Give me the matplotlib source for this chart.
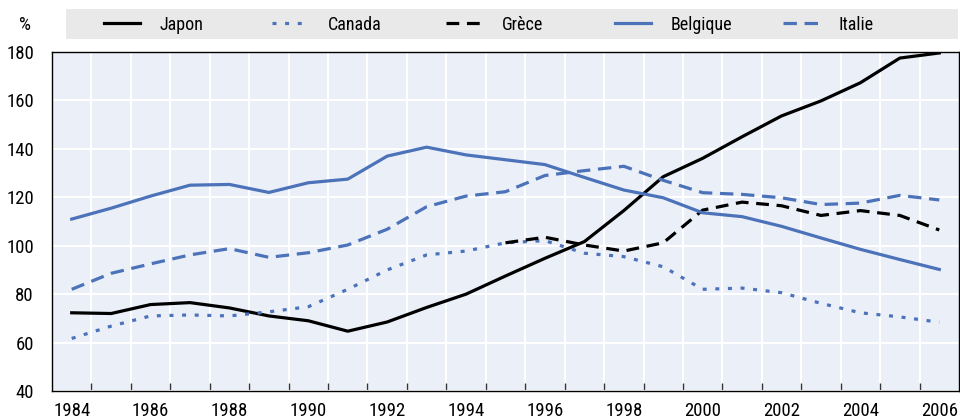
import matplotlib
matplotlib.use("Agg")
import matplotlib.pyplot as plt
from matplotlib.patches import Rectangle
import numpy as np

plt.rcParams['font.family'] = ['Roboto Condensed', 'Archivo Narrow', 'Liberation Sans', 'DejaVu Sans']

years = list(range(1984, 2007))
japon = [72.3, 72.0, 75.7, 76.5, 74.3, 71.0, 69.0, 64.7, 68.5, 74.5, 80.0, 87.5, 94.8,
         101.7, 114.5, 128.5, 136.1, 145.0, 153.6, 159.8, 167.3, 177.5, 179.6]
canada = [61.7, 66.8, 71.0, 71.4, 71.0, 72.7, 74.8, 82.0, 90.0, 96.2, 97.8, 101.2, 102.1,
          96.9, 95.5, 91.3, 82.0, 82.5, 80.6, 76.2, 72.3, 70.6, 68.4]
grece_years = list(range(1995, 2007))
grece = [101.2, 103.5, 100.3, 97.8, 101.2, 114.7, 118.0, 116.5, 112.5, 114.5, 112.5, 106.5]
belgique = [111.0, 115.5, 120.5, 125.0, 125.3, 122.0, 126.0, 127.5, 137.0, 140.7, 137.5,
            135.5, 133.5, 128.2, 123.0, 119.8, 113.6, 112.0, 108.0, 103.2, 98.5, 94.3, 90.2]
italie = [82.0, 88.6, 92.5, 96.2, 98.8, 95.2, 97.1, 100.3, 106.8, 116.1, 120.5, 122.3,
          129.0, 131.0, 132.8, 127.0, 121.9, 121.2, 119.8, 117.0, 117.6, 120.8, 118.9]
labels = ['Japon', 'Canada', 'Grèce', 'Belgique', 'Italie']

blue = '#4c72b9'
black = '#000000'
bg = '#ebf0f8'
W, H = 960, 420

fig = plt.figure(figsize=(9.6, 4.2), dpi=100)
ax = fig.add_axes([52/W, 1-391/H, 907/W, 339/H])
ax.set_facecolor(bg)

lw = 2.3
l1, = ax.plot(years, japon, color=black, lw=lw)
l2, = ax.plot(years, canada, color=blue, lw=lw, linestyle=(0, (1.25, 2.7)))
l3, = ax.plot(grece_years, grece, color=black, lw=lw, linestyle=(0, (4.0, 2.4)))
l4, = ax.plot(years, belgique, color=blue, lw=lw)
l5, = ax.plot(years, italie, color=blue, lw=lw, linestyle=(0, (4.2, 2.4)))

ax.set_xlim(1983.5, 2006.5)
ax.set_ylim(40, 180)
ax.set_yticks(np.arange(40, 181, 20))
ax.set_xticks(years[::2])
ax.set_xticks(np.arange(1984.5, 2006, 1), minor=True)
ax.tick_params(axis='x', which='major', length=0, pad=8, labelsize=13.5)
ax.tick_params(axis='x', which='minor', direction='in', length=6, width=1, color='#333333')
ax.tick_params(axis='y', length=0, pad=13, labelsize=13.5)
ax.grid(True, which='minor', axis='x', color='white', lw=1.5)
ax.grid(True, which='major', axis='y', color='white', lw=1.5)
ax.set_axisbelow(True)
for s in ax.spines.values():
    s.set_color('black')
    s.set_linewidth(1.0)

# legend band
fig.patches.append(Rectangle((66/W, 1-39/H), (958-66)/W, 30/H, transform=fig.transFigure,
                             facecolor='#e9e9e9', edgecolor='none', zorder=0))
handles = [l1, l2, l3, l4, l5]
starts = [104, 272, 446, 615, 783]
for h, lab, x0 in zip(handles, labels, starts):
    fig.legend([h], [lab], loc='center left', bbox_to_anchor=(x0/W, 1-24.5/H),
               frameon=False, fontsize=13, handlelength=2.0, handletextpad=1.1,
               borderpad=0, borderaxespad=0)
fig.text(19/W, 1-25/H, '%', fontsize=13.5, va='center', ha='left')

fig.savefig('out.png', dpi=100)
